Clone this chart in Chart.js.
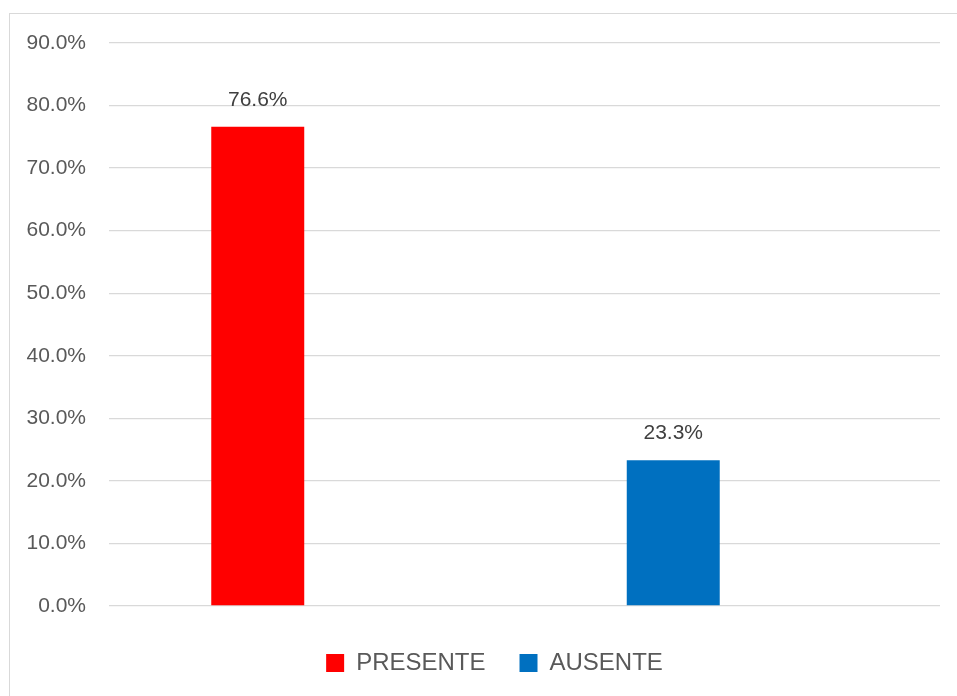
<!DOCTYPE html>
<html>
<head>
<meta charset="utf-8">
<script src="https://cdn.jsdelivr.net/npm/chart.js@4/dist/chart.umd.min.js"></script>
<style>
	html, body { margin: 0; padding: 0; background: #fff; overflow: hidden; }
	#wrap { position: relative; width: 957px; height: 696px; }
	#frame { position: absolute; left: 9px; top: 13px; width: 1000px; height: 1000px; border: 1px solid #d9d9d9; }
	#chart { position: absolute; left: 0; top: 0; }
</style>
</head>
<body>
<div id="wrap">
	<div id="frame"></div>
	<canvas id="chart" width="957" height="696"></canvas>
</div>
<script>
const categories = ['PRESENTE', 'AUSENTE'];
const values = [76.6, 23.3];
const barColors = ['#ff0000', '#0070c0'];
const yTicks = [0, 10, 20, 30, 40, 50, 60, 70, 80, 90];

function pct(value) {
	return `${Number(value).toFixed(1)}%`;
}

// one dataset per category so each gets its own legend entry
const datasets = categories.map((label, i) => ({
	label,
	data: categories.map((_, j) => (j === i ? values[i] : null)),
	backgroundColor: barColors[i],
	stack: 'main',
	categoryPercentage: 0.568,
	barPercentage: 0.788,
}));

// empty stack that keeps the bars left of each category centre, as in the original
datasets.push({
	label: '',
	data: categories.map(() => null),
	backgroundColor: 'rgba(0,0,0,0)',
	stack: 'spacer',
	categoryPercentage: 0.568,
	barPercentage: 0.788,
});

const valueLabels = {
	id: 'valueLabels',
	afterDatasetsDraw(chart) {
		const { ctx } = chart;
		ctx.save();
		ctx.font = '21px "Liberation Sans", Arial, sans-serif';
		ctx.fillStyle = '#404040';
		ctx.textAlign = 'center';
		ctx.textBaseline = 'middle';
		chart.data.datasets.forEach((ds, di) => {
			const meta = chart.getDatasetMeta(di);
			ds.data.forEach((v, i) => {
				if (v === null) return;
				const bar = meta.data[i];
				ctx.fillText(pct(v), bar.x, bar.y - 27);
			});
		});
		ctx.restore();
	},
};

// legend in the original sits a bit right of the canvas centre
const legendShift = {
	id: 'legendShift',
	afterLayout(chart) {
		chart.legend.left += 20;
		chart.legend.right += 20;
	},
};

new Chart(document.getElementById('chart'), {
	type: 'bar',
	data: { labels: categories, datasets },
	plugins: [valueLabels, legendShift],
	options: {
		responsive: false,
		animation: false,
		layout: { padding: { left: 9, right: 17, top: 43, bottom: 11 } },
		plugins: {
			tooltip: { enabled: false },
			legend: {
				position: 'bottom',
				labels: {
					filter: (item) => item.text !== '',
					boxWidth: 18,
					boxHeight: 18,
					padding: 34,
					color: '#595959',
					font: { family: '"Liberation Sans", Arial, sans-serif', size: 24 },
				},
			},
		},
		scales: {
			x: {
				stacked: true,
				ticks: { display: false },
				grid: { display: false },
				border: { display: false },
				afterFit: (scale) => { scale.height = 11; },
			},
			y: {
				stacked: true,
				min: 0,
				max: 90,
				afterBuildTicks: (scale) => { scale.ticks = yTicks.map((v) => ({ value: v })); },
				afterFit: (scale) => { scale.width = 100; },
				ticks: {
					padding: 23,
					color: '#595959',
					font: { family: '"Liberation Sans", Arial, sans-serif', size: 21 },
					callback: (v) => pct(v),
				},
				grid: { color: '#d9d9d9', lineWidth: 1.3, drawTicks: false },
				border: { display: false },
			},
		},
	},
});
</script>
</body>
</html>
